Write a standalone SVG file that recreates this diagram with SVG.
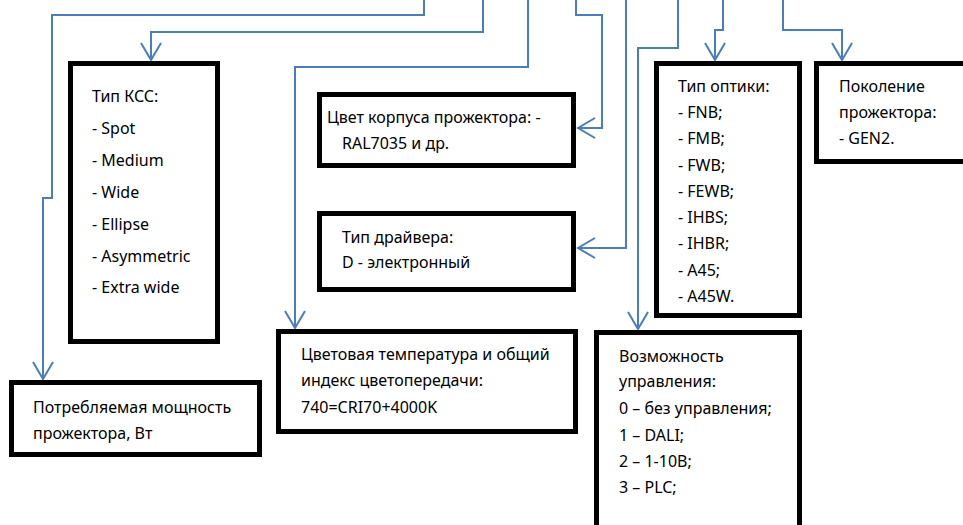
<svg xmlns="http://www.w3.org/2000/svg" width="963" height="525" viewBox="0 0 963 525">
<style>
.box{fill:#fff;stroke:#000;stroke-width:5}
.t{font-family:"Noto Sans","Open Sans",sans-serif;font-size:16px;fill:#000}
.c{fill:none;stroke:#4a7ebb;stroke-width:2}
</style>
<defs>
<marker id="a" markerUnits="userSpaceOnUse" markerWidth="24" markerHeight="24" viewBox="-2 -12 22 24" refX="17" refY="0" orient="auto">
<path d="M0,-10 L17,0 L0,10" fill="none" stroke="#4a7ebb" stroke-width="2"/>
</marker>
</defs>
<rect width="963" height="525" fill="#fff"/>
<g id="connectors">
<path class="c" d="M424,0 V15 H52 V198 H43 V379" marker-end="url(#a)"/>
<path class="c" d="M483,0 V32 H151 V60" marker-end="url(#a)"/>
<path class="c" d="M528,0 V67 H295 V328" marker-end="url(#a)"/>
<path class="c" d="M576,0 V15 H602 V128 H578" marker-end="url(#a)"/>
<path class="c" d="M626,0 V248 H578" marker-end="url(#a)"/>
<path class="c" d="M678,0 V48 H638 V329" marker-end="url(#a)"/>
<path class="c" d="M723,0 V30 H715 V60" marker-end="url(#a)"/>
<path class="c" d="M783,0 V30 H842 V60" marker-end="url(#a)"/>
</g>
<g id="kss">
<rect class="box" x="70.5" y="63.5" width="147" height="278"/>
<text class="t" x="92" y="102">Тип КСС:</text>
<text class="t" x="92" y="134">- Spot</text>
<text class="t" x="92" y="166">- Medium</text>
<text class="t" x="92" y="198">- Wide</text>
<text class="t" x="92" y="230">- Ellipse</text>
<text class="t" x="92" y="262">- Asymmetric</text>
<text class="t" x="92" y="293">- Extra wide</text>
</g>
<g id="power">
<rect class="box" x="11.5" y="382.5" width="248" height="72"/>
<text class="t" x="33" y="413">Потребляемая мощность</text>
<text class="t" x="33" y="439">прожектора, Вт</text>
</g>
<g id="color">
<rect class="box" x="319.5" y="94.5" width="254" height="71"/>
<text class="t" x="327" y="123">Цвет корпуса прожектора: -</text>
<text class="t" x="342" y="149">RAL7035 и др.</text>
</g>
<g id="driver">
<rect class="box" x="319.5" y="213.5" width="254" height="76"/>
<text class="t" x="342" y="243">Тип драйвера:</text>
<text class="t" x="342" y="268">D - электронный</text>
</g>
<g id="cct">
<rect class="box" x="278.5" y="331.5" width="297" height="100"/>
<text class="t" x="301" y="360">Цветовая температура и общий</text>
<text class="t" x="301" y="386">индекс цветопередачи:</text>
<text class="t" x="301" y="413">740=CRI70+4000K</text>
</g>
<g id="optics">
<rect class="box" x="656.5" y="63.5" width="143" height="252"/>
<text class="t" x="678" y="92">Тип оптики:</text>
<text class="t" x="678" y="118">- FNB;</text>
<text class="t" x="678" y="144">- FMB;</text>
<text class="t" x="678" y="171">- FWB;</text>
<text class="t" x="678" y="197">- FEWB;</text>
<text class="t" x="678" y="223">- IHBS;</text>
<text class="t" x="678" y="249">- IHBR;</text>
<text class="t" x="678" y="276">- A45;</text>
<text class="t" x="678" y="302">- A45W.</text>
</g>
<g id="generation">
<rect class="box" x="816.5" y="63.5" width="160" height="98"/>
<text class="t" x="839" y="92">Поколение</text>
<text class="t" x="839" y="118">прожектора:</text>
<text class="t" x="839" y="144">- GEN2.</text>
</g>
<g id="control">
<rect class="box" x="596.5" y="332.5" width="203" height="220"/>
<text class="t" x="619" y="362">Возможность</text>
<text class="t" x="619" y="387">управления:</text>
<text class="t" x="619" y="414">0 – без управления;</text>
<text class="t" x="619" y="441">1 – DALI;</text>
<text class="t" x="619" y="467">2 – 1-10В;</text>
<text class="t" x="619" y="493">3 – PLC;</text>
</g>
</svg>
